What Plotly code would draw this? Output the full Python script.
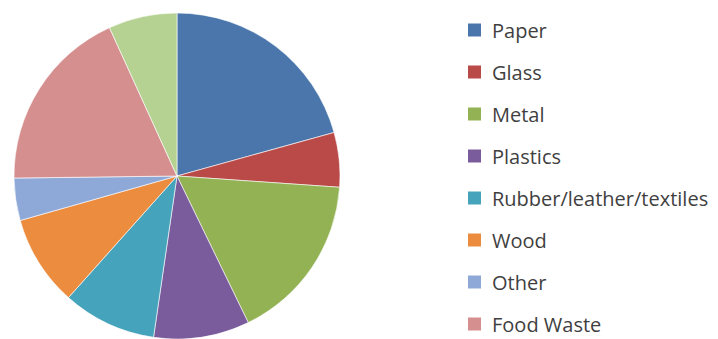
import plotly.graph_objects as go

categories = ["Paper", "Glass", "Metal", "Plastics", "Rubber/leather/textiles",
              "Wood", "Other", "Food Waste", "Yard Trimmings"]
values = [20.7, 5.4, 16.7, 9.5, 9.3, 9.0, 4.2, 18.4, 6.8]
colors = ["#4A76AC", "#B94A48", "#93B254", "#7A5C9C", "#46A3BC",
          "#EB8C3F", "#8EA9D8", "#D68F8F", "#B6D293"]
legend_labels = categories[:8]

W, H = 718, 339

fig = go.Figure()
fig.add_trace(go.Pie(
    labels=categories, values=values, sort=False, direction="clockwise",
    rotation=0, textinfo="none", showlegend=False,
    marker=dict(colors=colors, line=dict(color="rgba(255,255,255,0.6)", width=1)),
    domain=dict(x=[14 / W, 340 / W], y=[0, 326 / H]),
))

# manual legend (original shows only 8 entries)
row0, step = 30, 42
shapes, annotations = [], []
for i, lab in enumerate(legend_labels):
    yc = row0 + i * step
    shapes.append(dict(type="rect", xref="paper", yref="paper",
                       x0=468 / W, x1=481 / W, y0=1 - (yc + 6.5) / H, y1=1 - (yc - 6.5) / H,
                       fillcolor=colors[i], line=dict(width=0)))
    annotations.append(dict(x=490 / W, y=1 - yc / H, xref="paper", yref="paper",
                            text=lab, showarrow=False, xanchor="left", yanchor="middle",
                            font=dict(family="Open Sans", size=20, color="#3F3F3F")))

fig.update_layout(width=W, height=H, margin=dict(l=0, r=0, t=0, b=0),
                  paper_bgcolor="white", plot_bgcolor="white",
                  shapes=shapes, annotations=annotations)
fig.write_html("out.html")
